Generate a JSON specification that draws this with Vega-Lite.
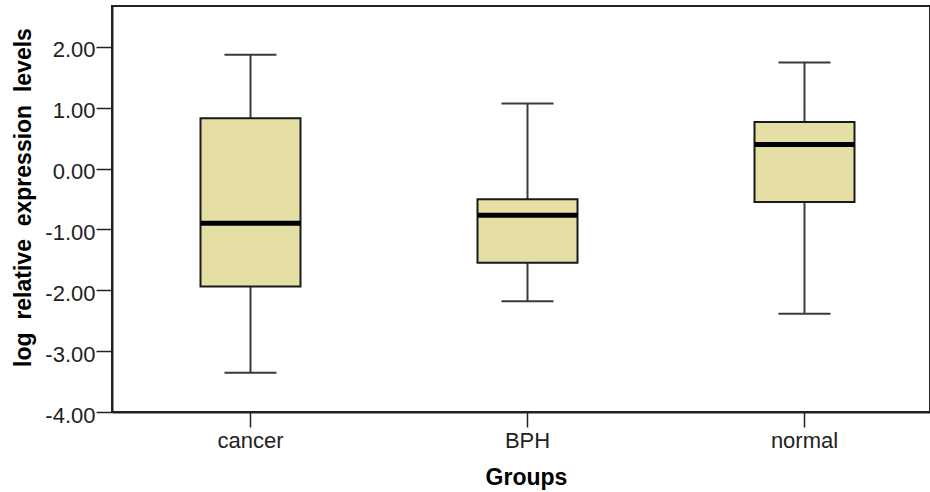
{
  "$schema": "https://vega.github.io/schema/vega-lite/v6.json",
  "autosize": "none",
  "padding": {"left": 112, "top": 6, "right": 0, "bottom": 80},
  "width": 818,
  "height": 406,
  "background": "white",
  "config": {
    "view": {"stroke": "#222222", "strokeWidth": 2},
    "font": "Liberation Sans"
  },
  "data": {
    "values": [
      {"group": "cancer", "lower": -3.355, "q1": -1.94, "median": -0.9, "q3": 0.827, "upper": 1.87},
      {"group": "BPH", "lower": -2.18, "q1": -1.546, "median": -0.768, "q3": -0.505, "upper": 1.07},
      {"group": "normal", "lower": -2.385, "q1": -0.549, "median": 0.395, "q3": 0.766, "upper": 1.743}
    ]
  },
  "encoding": {
    "x": {
      "field": "group",
      "type": "nominal",
      "sort": ["cancer", "BPH", "normal"],
      "scale": {"range": [0, 831], "paddingInner": 0, "paddingOuter": 0},
      "axis": {
        "title": "Groups",
        "titleFont": "Liberation Sans",
        "titleFontSize": 23,
        "titleFontWeight": "bold",
        "titleColor": "#000000",
        "titleX": 414,
        "titleY": 65,
        "titleBaseline": "middle",
        "labelAngle": 0,
        "labelFontSize": 22,
        "labelColor": "#222222",
        "labelPadding": 3,
        "tickSize": 15,
        "tickWidth": 1.5,
        "tickColor": "#222222",
        "domainColor": "#222222",
        "domainWidth": 2,
        "grid": false
      }
    }
  },
  "layer": [
    {
      "mark": {"type": "rule", "color": "#3a3a3a", "strokeWidth": 2},
      "encoding": {
        "y": {
          "field": "lower",
          "type": "quantitative",
          "scale": {"domain": [-4, 2.67], "nice": false, "zero": false},
          "axis": {
            "title": "log\u00a0 relative\u00a0 expression\u00a0 levels",
            "titleFont": "Liberation Sans",
            "titleFontSize": 23,
            "titleFontWeight": "bold",
            "titleColor": "#000000",
            "titleX": -89,
            "titleY": 191,
            "titleAngle": -90,
            "titleAlign": "center",
            "titleBaseline": "middle",
            "values": [-4, -3, -2, -1, 0, 1, 2],
            "labelExpr": "(datum.value < 0 ? '-' : '') + format(abs(datum.value), '.2f')",
            "labelFontSize": 22,
            "labelColor": "#222222",
            "labelPadding": 1,
            "labelOffset": 3,
            "tickSize": 16,
            "tickWidth": 1.5,
            "tickColor": "#222222",
            "domainColor": "#222222",
            "domainWidth": 2,
            "grid": false
          }
        },
        "y2": {"field": "q1"}
      }
    },
    {
      "mark": {"type": "rule", "color": "#3a3a3a", "strokeWidth": 2},
      "encoding": {
        "y": {"field": "q3", "type": "quantitative"},
        "y2": {"field": "upper"}
      }
    },
    {
      "mark": {"type": "tick", "color": "#3a3a3a", "opacity": 1, "thickness": 2, "size": 52, "orient": "horizontal"},
      "encoding": {"y": {"field": "lower", "type": "quantitative"}}
    },
    {
      "mark": {"type": "tick", "color": "#3a3a3a", "opacity": 1, "thickness": 2, "size": 52, "orient": "horizontal"},
      "encoding": {"y": {"field": "upper", "type": "quantitative"}}
    },
    {
      "mark": {"type": "bar", "size": 100, "fill": "#e5dfa6", "opacity": 1, "stroke": "#1a1a1a", "strokeWidth": 2},
      "encoding": {
        "y": {"field": "q1", "type": "quantitative"},
        "y2": {"field": "q3"}
      }
    },
    {
      "mark": {"type": "tick", "color": "#000000", "opacity": 1, "thickness": 5, "size": 100, "orient": "horizontal"},
      "encoding": {"y": {"field": "median", "type": "quantitative"}}
    }
  ]
}
